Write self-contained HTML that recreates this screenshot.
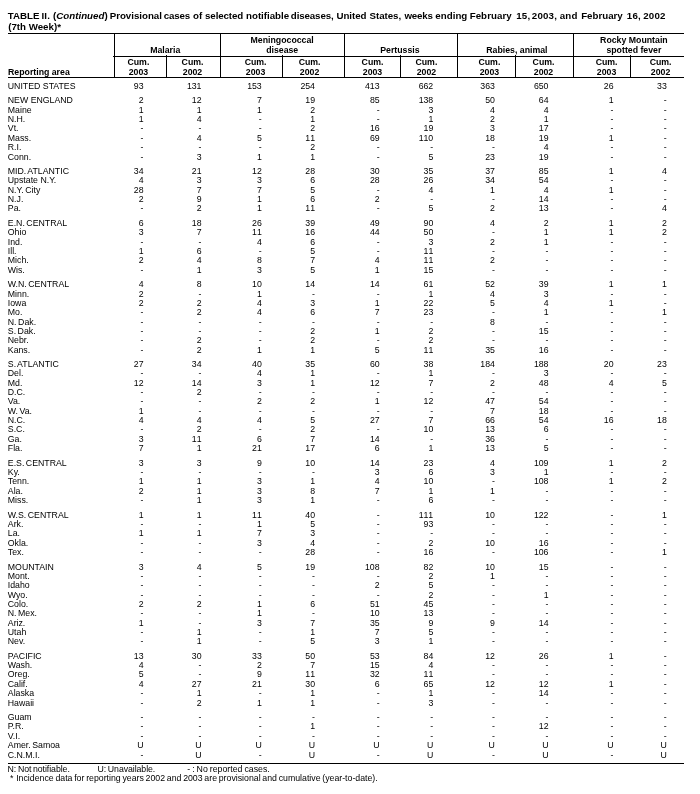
<!DOCTYPE html>
<html><head><meta charset="utf-8"><title>TABLE II. Provisional cases of selected notifiable diseases</title>
<style>
html,body{margin:0;padding:0;background:#fff;}
body{width:700px;height:794px;position:relative;overflow:hidden;font-family:"Liberation Sans",Arial,Helvetica,sans-serif;font-size:8.75px;line-height:9px;color:#000;}
.abs,.r,.r b,.r i,.h,.c,.ln{position:absolute;white-space:nowrap;}
.t{position:absolute;left:8.2px;font-weight:bold;font-size:9.72px;line-height:10px;white-space:nowrap;}
.r{left:0;width:700px;height:9px;}
.r b{left:7.8px;top:0;font-weight:normal;}
.r b.w{word-spacing:-0.9px;}
.r i{top:0;font-style:normal;text-align:right;font-kerning:none;}
.h{font-weight:bold;width:200px;text-align:center;}
.ln{background:#000;}
.f{position:absolute;white-space:nowrap;}
.t span{position:absolute;top:0;}
#w{position:absolute;left:0;top:0;width:700px;height:794px;will-change:transform;}
</style></head><body><div id="w">
<div class="t" style="top:11px;left:0"><span style="left:7.67px;letter-spacing:0.059px">TABLE </span><span style="left:41.45px;letter-spacing:0.200px">II. </span><span style="left:52.91px;letter-spacing:0.029px">(<em>Continued</em>) </span><span style="left:109.70px;letter-spacing:-0.011px">Provisional </span><span style="left:163.80px;letter-spacing:-0.179px">cases </span><span style="left:192.88px;letter-spacing:0.200px">of </span><span style="left:205.08px;letter-spacing:-0.118px">selected </span><span style="left:246.08px;letter-spacing:-0.022px">notifiable </span><span style="left:290.87px;letter-spacing:-0.123px">diseases, </span><span style="left:336.51px;letter-spacing:-0.057px">United </span><span style="left:369.53px;letter-spacing:-0.045px">States, </span><span style="left:404.40px;letter-spacing:-0.154px">weeks </span><span style="left:435.30px;letter-spacing:0.028px">ending </span><span style="left:469.63px;letter-spacing:0.079px">February </span><span style="left:516.22px;letter-spacing:0.200px">15, </span><span style="left:531.81px;letter-spacing:0.200px">2003, </span><span style="left:559.75px;letter-spacing:0.200px">and </span><span style="left:581.14px;letter-spacing:0.009px">February </span><span style="left:626.82px;letter-spacing:0.200px">16, </span><span style="left:643.20px;letter-spacing:0.200px">2002 </span></div>
<div class="t" style="top:22px">(7th Week)*</div>

<div class="ln" style="left:8px;top:33px;width:676px;height:1px"></div>
<div class="ln" style="left:113px;top:56px;width:571px;height:1px"></div>
<div class="ln" style="left:8px;top:77px;width:676px;height:1px"></div>
<div class="ln" style="left:8px;top:763px;width:676px;height:1px"></div>

<div class="ln" style="left:114px;top:33px;width:1px;height:44px"></div>
<div class="ln" style="left:220px;top:33px;width:1px;height:44px"></div>
<div class="ln" style="left:344px;top:33px;width:1px;height:44px"></div>
<div class="ln" style="left:457px;top:33px;width:1px;height:44px"></div>
<div class="ln" style="left:573px;top:33px;width:1px;height:44px"></div>
<div class="ln" style="left:166px;top:55px;width:1px;height:22px"></div>
<div class="ln" style="left:282px;top:55px;width:1px;height:22px"></div>
<div class="ln" style="left:400px;top:55px;width:1px;height:22px"></div>
<div class="ln" style="left:515px;top:55px;width:1px;height:22px"></div>
<div class="ln" style="left:630px;top:55px;width:1px;height:22px"></div>

<div class="h" style="left:65.25px;top:46px">Malaria</div>
<div class="h" style="left:182.2px;top:36px">Meningococcal</div>
<div class="h" style="left:182.2px;top:46px">disease</div>
<div class="h" style="left:299.9px;top:46px">Pertussis</div>
<div class="h" style="left:416.9px;top:46px">Rabies, animal</div>
<div class="h" style="left:533.9px;top:36px">Rocky Mountain</div>
<div class="h" style="left:533.9px;top:46px">spotted fever</div>

<div class="h" style="left:8px;top:68px;width:auto;text-align:left">Reporting area</div>
<div class="h" style="left:38.40px;top:58px">Cum.</div><div class="h" style="left:38.40px;top:68px">2003</div>
<div class="h" style="left:92.50px;top:58px">Cum.</div><div class="h" style="left:92.50px;top:68px">2002</div>
<div class="h" style="left:155.60px;top:58px">Cum.</div><div class="h" style="left:155.60px;top:68px">2003</div>
<div class="h" style="left:209.60px;top:58px">Cum.</div><div class="h" style="left:209.60px;top:68px">2002</div>
<div class="h" style="left:272.50px;top:58px">Cum.</div><div class="h" style="left:272.50px;top:68px">2003</div>
<div class="h" style="left:326.40px;top:58px">Cum.</div><div class="h" style="left:326.40px;top:68px">2002</div>
<div class="h" style="left:389.40px;top:58px">Cum.</div><div class="h" style="left:389.40px;top:68px">2003</div>
<div class="h" style="left:443.50px;top:58px">Cum.</div><div class="h" style="left:443.50px;top:68px">2002</div>
<div class="h" style="left:506.60px;top:58px">Cum.</div><div class="h" style="left:506.60px;top:68px">2003</div>
<div class="h" style="left:560.60px;top:58px">Cum.</div><div class="h" style="left:560.60px;top:68px">2002</div>

<div class="r" style="top:82.15px"><b>UNITED STATES</b><i style="right:556.50px">93</i><i style="right:498.50px">131</i><i style="right:438.25px">153</i><i style="right:385.00px">254</i><i style="right:320.40px">413</i><i style="right:266.75px">662</i><i style="right:205.10px">363</i><i style="right:151.50px">650</i><i style="right:86.50px">26</i><i style="right:33.25px">33</i></div>
<div class="r" style="top:96.15px"><b>NEW ENGLAND</b><i style="right:556.50px">2</i><i style="right:498.50px">12</i><i style="right:438.25px">7</i><i style="right:385.00px">19</i><i style="right:320.40px">85</i><i style="right:266.75px">138</i><i style="right:205.10px">50</i><i style="right:151.50px">64</i><i style="right:86.50px">1</i><i style="right:33.25px">-</i></div>
<div class="r" style="top:105.92px"><b>Maine</b><i style="right:556.50px">1</i><i style="right:498.50px">1</i><i style="right:438.25px">1</i><i style="right:385.00px">2</i><i style="right:320.40px">-</i><i style="right:266.75px">3</i><i style="right:205.10px">4</i><i style="right:151.50px">4</i><i style="right:86.50px">-</i><i style="right:33.25px">-</i></div>
<div class="r" style="top:115.04px"><b>N.H.</b><i style="right:556.50px">1</i><i style="right:498.50px">4</i><i style="right:438.25px">-</i><i style="right:385.00px">1</i><i style="right:320.40px">-</i><i style="right:266.75px">1</i><i style="right:205.10px">2</i><i style="right:151.50px">1</i><i style="right:86.50px">-</i><i style="right:33.25px">-</i></div>
<div class="r" style="top:124.49px"><b>Vt.</b><i style="right:556.50px">-</i><i style="right:498.50px">-</i><i style="right:438.25px">-</i><i style="right:385.00px">2</i><i style="right:320.40px">16</i><i style="right:266.75px">19</i><i style="right:205.10px">3</i><i style="right:151.50px">17</i><i style="right:86.50px">-</i><i style="right:33.25px">-</i></div>
<div class="r" style="top:133.94px"><b>Mass.</b><i style="right:556.50px">-</i><i style="right:498.50px">4</i><i style="right:438.25px">5</i><i style="right:385.00px">11</i><i style="right:320.40px">69</i><i style="right:266.75px">110</i><i style="right:205.10px">18</i><i style="right:151.50px">19</i><i style="right:86.50px">1</i><i style="right:33.25px">-</i></div>
<div class="r" style="top:143.06px"><b>R.I.</b><i style="right:556.50px">-</i><i style="right:498.50px">-</i><i style="right:438.25px">-</i><i style="right:385.00px">2</i><i style="right:320.40px">-</i><i style="right:266.75px">-</i><i style="right:205.10px">-</i><i style="right:151.50px">4</i><i style="right:86.50px">-</i><i style="right:33.25px">-</i></div>
<div class="r" style="top:152.83px"><b>Conn.</b><i style="right:556.50px">-</i><i style="right:498.50px">3</i><i style="right:438.25px">1</i><i style="right:385.00px">1</i><i style="right:320.40px">-</i><i style="right:266.75px">5</i><i style="right:205.10px">23</i><i style="right:151.50px">19</i><i style="right:86.50px">-</i><i style="right:33.25px">-</i></div>
<div class="r" style="top:167.16px"><b class="w">MID. ATLANTIC</b><i style="right:556.50px">34</i><i style="right:498.50px">21</i><i style="right:438.25px">12</i><i style="right:385.00px">28</i><i style="right:320.40px">30</i><i style="right:266.75px">35</i><i style="right:205.10px">37</i><i style="right:151.50px">85</i><i style="right:86.50px">1</i><i style="right:33.25px">4</i></div>
<div class="r" style="top:176.28px"><b>Upstate N.Y.</b><i style="right:556.50px">4</i><i style="right:498.50px">3</i><i style="right:438.25px">3</i><i style="right:385.00px">6</i><i style="right:320.40px">28</i><i style="right:266.75px">26</i><i style="right:205.10px">34</i><i style="right:151.50px">54</i><i style="right:86.50px">-</i><i style="right:33.25px">-</i></div>
<div class="r" style="top:185.73px"><b class="w">N.Y. City</b><i style="right:556.50px">28</i><i style="right:498.50px">7</i><i style="right:438.25px">7</i><i style="right:385.00px">5</i><i style="right:320.40px">-</i><i style="right:266.75px">4</i><i style="right:205.10px">1</i><i style="right:151.50px">4</i><i style="right:86.50px">1</i><i style="right:33.25px">-</i></div>
<div class="r" style="top:195.02px"><b>N.J.</b><i style="right:556.50px">2</i><i style="right:498.50px">9</i><i style="right:438.25px">1</i><i style="right:385.00px">6</i><i style="right:320.40px">2</i><i style="right:266.75px">-</i><i style="right:205.10px">-</i><i style="right:151.50px">14</i><i style="right:86.50px">-</i><i style="right:33.25px">-</i></div>
<div class="r" style="top:204.30px"><b>Pa.</b><i style="right:556.50px">-</i><i style="right:498.50px">2</i><i style="right:438.25px">1</i><i style="right:385.00px">11</i><i style="right:320.40px">-</i><i style="right:266.75px">5</i><i style="right:205.10px">2</i><i style="right:151.50px">13</i><i style="right:86.50px">-</i><i style="right:33.25px">4</i></div>
<div class="r" style="top:218.79px"><b class="w">E.N. CENTRAL</b><i style="right:556.50px">6</i><i style="right:498.50px">18</i><i style="right:438.25px">26</i><i style="right:385.00px">39</i><i style="right:320.40px">49</i><i style="right:266.75px">90</i><i style="right:205.10px">4</i><i style="right:151.50px">2</i><i style="right:86.50px">1</i><i style="right:33.25px">2</i></div>
<div class="r" style="top:228.08px"><b>Ohio</b><i style="right:556.50px">3</i><i style="right:498.50px">7</i><i style="right:438.25px">11</i><i style="right:385.00px">16</i><i style="right:320.40px">44</i><i style="right:266.75px">50</i><i style="right:205.10px">-</i><i style="right:151.50px">1</i><i style="right:86.50px">1</i><i style="right:33.25px">2</i></div>
<div class="r" style="top:237.85px"><b>Ind.</b><i style="right:556.50px">-</i><i style="right:498.50px">-</i><i style="right:438.25px">4</i><i style="right:385.00px">6</i><i style="right:320.40px">-</i><i style="right:266.75px">3</i><i style="right:205.10px">2</i><i style="right:151.50px">1</i><i style="right:86.50px">-</i><i style="right:33.25px">-</i></div>
<div class="r" style="top:246.81px"><b>Ill.</b><i style="right:556.50px">1</i><i style="right:498.50px">6</i><i style="right:438.25px">-</i><i style="right:385.00px">5</i><i style="right:320.40px">-</i><i style="right:266.75px">11</i><i style="right:205.10px">-</i><i style="right:151.50px">-</i><i style="right:86.50px">-</i><i style="right:33.25px">-</i></div>
<div class="r" style="top:256.09px"><b>Mich.</b><i style="right:556.50px">2</i><i style="right:498.50px">4</i><i style="right:438.25px">8</i><i style="right:385.00px">7</i><i style="right:320.40px">4</i><i style="right:266.75px">11</i><i style="right:205.10px">2</i><i style="right:151.50px">-</i><i style="right:86.50px">-</i><i style="right:33.25px">-</i></div>
<div class="r" style="top:265.87px"><b>Wis.</b><i style="right:556.50px">-</i><i style="right:498.50px">1</i><i style="right:438.25px">3</i><i style="right:385.00px">5</i><i style="right:320.40px">1</i><i style="right:266.75px">15</i><i style="right:205.10px">-</i><i style="right:151.50px">-</i><i style="right:86.50px">-</i><i style="right:33.25px">-</i></div>
<div class="r" style="top:280.03px"><b class="w">W.N. CENTRAL</b><i style="right:556.50px">4</i><i style="right:498.50px">8</i><i style="right:438.25px">10</i><i style="right:385.00px">14</i><i style="right:320.40px">14</i><i style="right:266.75px">61</i><i style="right:205.10px">52</i><i style="right:151.50px">39</i><i style="right:86.50px">1</i><i style="right:33.25px">1</i></div>
<div class="r" style="top:289.64px"><b>Minn.</b><i style="right:556.50px">2</i><i style="right:498.50px">-</i><i style="right:438.25px">1</i><i style="right:385.00px">-</i><i style="right:320.40px">-</i><i style="right:266.75px">1</i><i style="right:205.10px">4</i><i style="right:151.50px">3</i><i style="right:86.50px">-</i><i style="right:33.25px">-</i></div>
<div class="r" style="top:298.93px"><b>Iowa</b><i style="right:556.50px">2</i><i style="right:498.50px">2</i><i style="right:438.25px">4</i><i style="right:385.00px">3</i><i style="right:320.40px">1</i><i style="right:266.75px">22</i><i style="right:205.10px">5</i><i style="right:151.50px">4</i><i style="right:86.50px">1</i><i style="right:33.25px">-</i></div>
<div class="r" style="top:308.05px"><b>Mo.</b><i style="right:556.50px">-</i><i style="right:498.50px">2</i><i style="right:438.25px">4</i><i style="right:385.00px">6</i><i style="right:320.40px">7</i><i style="right:266.75px">23</i><i style="right:205.10px">-</i><i style="right:151.50px">1</i><i style="right:86.50px">-</i><i style="right:33.25px">1</i></div>
<div class="r" style="top:317.50px"><b class="w">N. Dak.</b><i style="right:556.50px">-</i><i style="right:498.50px">-</i><i style="right:438.25px">-</i><i style="right:385.00px">-</i><i style="right:320.40px">-</i><i style="right:266.75px">-</i><i style="right:205.10px">8</i><i style="right:151.50px">-</i><i style="right:86.50px">-</i><i style="right:33.25px">-</i></div>
<div class="r" style="top:326.95px"><b class="w">S. Dak.</b><i style="right:556.50px">-</i><i style="right:498.50px">-</i><i style="right:438.25px">-</i><i style="right:385.00px">2</i><i style="right:320.40px">1</i><i style="right:266.75px">2</i><i style="right:205.10px">-</i><i style="right:151.50px">15</i><i style="right:86.50px">-</i><i style="right:33.25px">-</i></div>
<div class="r" style="top:336.07px"><b>Nebr.</b><i style="right:556.50px">-</i><i style="right:498.50px">2</i><i style="right:438.25px">-</i><i style="right:385.00px">2</i><i style="right:320.40px">-</i><i style="right:266.75px">2</i><i style="right:205.10px">-</i><i style="right:151.50px">-</i><i style="right:86.50px">-</i><i style="right:33.25px">-</i></div>
<div class="r" style="top:345.52px"><b>Kans.</b><i style="right:556.50px">-</i><i style="right:498.50px">2</i><i style="right:438.25px">1</i><i style="right:385.00px">1</i><i style="right:320.40px">5</i><i style="right:266.75px">11</i><i style="right:205.10px">35</i><i style="right:151.50px">16</i><i style="right:86.50px">-</i><i style="right:33.25px">-</i></div>
<div class="r" style="top:360.01px"><b class="w">S. ATLANTIC</b><i style="right:556.50px">27</i><i style="right:498.50px">34</i><i style="right:438.25px">40</i><i style="right:385.00px">35</i><i style="right:320.40px">60</i><i style="right:266.75px">38</i><i style="right:205.10px">184</i><i style="right:151.50px">188</i><i style="right:86.50px">20</i><i style="right:33.25px">23</i></div>
<div class="r" style="top:369.13px"><b>Del.</b><i style="right:556.50px">-</i><i style="right:498.50px">-</i><i style="right:438.25px">4</i><i style="right:385.00px">1</i><i style="right:320.40px">-</i><i style="right:266.75px">1</i><i style="right:205.10px">-</i><i style="right:151.50px">3</i><i style="right:86.50px">-</i><i style="right:33.25px">-</i></div>
<div class="r" style="top:378.58px"><b>Md.</b><i style="right:556.50px">12</i><i style="right:498.50px">14</i><i style="right:438.25px">3</i><i style="right:385.00px">1</i><i style="right:320.40px">12</i><i style="right:266.75px">7</i><i style="right:205.10px">2</i><i style="right:151.50px">48</i><i style="right:86.50px">4</i><i style="right:33.25px">5</i></div>
<div class="r" style="top:388.02px"><b>D.C.</b><i style="right:556.50px">-</i><i style="right:498.50px">2</i><i style="right:438.25px">-</i><i style="right:385.00px">-</i><i style="right:320.40px">-</i><i style="right:266.75px">-</i><i style="right:205.10px">-</i><i style="right:151.50px">-</i><i style="right:86.50px">-</i><i style="right:33.25px">-</i></div>
<div class="r" style="top:397.31px"><b>Va.</b><i style="right:556.50px">-</i><i style="right:498.50px">-</i><i style="right:438.25px">2</i><i style="right:385.00px">2</i><i style="right:320.40px">1</i><i style="right:266.75px">12</i><i style="right:205.10px">47</i><i style="right:151.50px">54</i><i style="right:86.50px">-</i><i style="right:33.25px">-</i></div>
<div class="r" style="top:406.76px"><b class="w">W. Va.</b><i style="right:556.50px">1</i><i style="right:498.50px">-</i><i style="right:438.25px">-</i><i style="right:385.00px">-</i><i style="right:320.40px">-</i><i style="right:266.75px">-</i><i style="right:205.10px">7</i><i style="right:151.50px">18</i><i style="right:86.50px">-</i><i style="right:33.25px">-</i></div>
<div class="r" style="top:416.04px"><b>N.C.</b><i style="right:556.50px">4</i><i style="right:498.50px">4</i><i style="right:438.25px">4</i><i style="right:385.00px">5</i><i style="right:320.40px">27</i><i style="right:266.75px">7</i><i style="right:205.10px">66</i><i style="right:151.50px">54</i><i style="right:86.50px">16</i><i style="right:33.25px">18</i></div>
<div class="r" style="top:425.49px"><b>S.C.</b><i style="right:556.50px">-</i><i style="right:498.50px">2</i><i style="right:438.25px">-</i><i style="right:385.00px">2</i><i style="right:320.40px">-</i><i style="right:266.75px">10</i><i style="right:205.10px">13</i><i style="right:151.50px">6</i><i style="right:86.50px">-</i><i style="right:33.25px">-</i></div>
<div class="r" style="top:434.77px"><b>Ga.</b><i style="right:556.50px">3</i><i style="right:498.50px">11</i><i style="right:438.25px">6</i><i style="right:385.00px">7</i><i style="right:320.40px">14</i><i style="right:266.75px">-</i><i style="right:205.10px">36</i><i style="right:151.50px">-</i><i style="right:86.50px">-</i><i style="right:33.25px">-</i></div>
<div class="r" style="top:444.06px"><b>Fla.</b><i style="right:556.50px">7</i><i style="right:498.50px">1</i><i style="right:438.25px">21</i><i style="right:385.00px">17</i><i style="right:320.40px">6</i><i style="right:266.75px">1</i><i style="right:205.10px">13</i><i style="right:151.50px">5</i><i style="right:86.50px">-</i><i style="right:33.25px">-</i></div>
<div class="r" style="top:458.55px"><b class="w">E.S. CENTRAL</b><i style="right:556.50px">3</i><i style="right:498.50px">3</i><i style="right:438.25px">9</i><i style="right:385.00px">10</i><i style="right:320.40px">14</i><i style="right:266.75px">23</i><i style="right:205.10px">4</i><i style="right:151.50px">109</i><i style="right:86.50px">1</i><i style="right:33.25px">2</i></div>
<div class="r" style="top:468.00px"><b>Ky.</b><i style="right:556.50px">-</i><i style="right:498.50px">-</i><i style="right:438.25px">-</i><i style="right:385.00px">-</i><i style="right:320.40px">3</i><i style="right:266.75px">6</i><i style="right:205.10px">3</i><i style="right:151.50px">1</i><i style="right:86.50px">-</i><i style="right:33.25px">-</i></div>
<div class="r" style="top:477.44px"><b>Tenn.</b><i style="right:556.50px">1</i><i style="right:498.50px">1</i><i style="right:438.25px">3</i><i style="right:385.00px">1</i><i style="right:320.40px">4</i><i style="right:266.75px">10</i><i style="right:205.10px">-</i><i style="right:151.50px">108</i><i style="right:86.50px">1</i><i style="right:33.25px">2</i></div>
<div class="r" style="top:486.73px"><b>Ala.</b><i style="right:556.50px">2</i><i style="right:498.50px">1</i><i style="right:438.25px">3</i><i style="right:385.00px">8</i><i style="right:320.40px">7</i><i style="right:266.75px">1</i><i style="right:205.10px">1</i><i style="right:151.50px">-</i><i style="right:86.50px">-</i><i style="right:33.25px">-</i></div>
<div class="r" style="top:495.85px"><b>Miss.</b><i style="right:556.50px">-</i><i style="right:498.50px">1</i><i style="right:438.25px">3</i><i style="right:385.00px">1</i><i style="right:320.40px">-</i><i style="right:266.75px">6</i><i style="right:205.10px">-</i><i style="right:151.50px">-</i><i style="right:86.50px">-</i><i style="right:33.25px">-</i></div>
<div class="r" style="top:510.50px"><b class="w">W.S. CENTRAL</b><i style="right:556.50px">1</i><i style="right:498.50px">1</i><i style="right:438.25px">11</i><i style="right:385.00px">40</i><i style="right:320.40px">-</i><i style="right:266.75px">111</i><i style="right:205.10px">10</i><i style="right:151.50px">122</i><i style="right:86.50px">-</i><i style="right:33.25px">1</i></div>
<div class="r" style="top:519.63px"><b>Ark.</b><i style="right:556.50px">-</i><i style="right:498.50px">-</i><i style="right:438.25px">1</i><i style="right:385.00px">5</i><i style="right:320.40px">-</i><i style="right:266.75px">93</i><i style="right:205.10px">-</i><i style="right:151.50px">-</i><i style="right:86.50px">-</i><i style="right:33.25px">-</i></div>
<div class="r" style="top:529.24px"><b>La.</b><i style="right:556.50px">1</i><i style="right:498.50px">1</i><i style="right:438.25px">7</i><i style="right:385.00px">3</i><i style="right:320.40px">-</i><i style="right:266.75px">-</i><i style="right:205.10px">-</i><i style="right:151.50px">-</i><i style="right:86.50px">-</i><i style="right:33.25px">-</i></div>
<div class="r" style="top:538.69px"><b>Okla.</b><i style="right:556.50px">-</i><i style="right:498.50px">-</i><i style="right:438.25px">3</i><i style="right:385.00px">4</i><i style="right:320.40px">-</i><i style="right:266.75px">2</i><i style="right:205.10px">10</i><i style="right:151.50px">16</i><i style="right:86.50px">-</i><i style="right:33.25px">-</i></div>
<div class="r" style="top:547.97px"><b>Tex.</b><i style="right:556.50px">-</i><i style="right:498.50px">-</i><i style="right:438.25px">-</i><i style="right:385.00px">28</i><i style="right:320.40px">-</i><i style="right:266.75px">16</i><i style="right:205.10px">-</i><i style="right:151.50px">106</i><i style="right:86.50px">-</i><i style="right:33.25px">1</i></div>
<div class="r" style="top:562.62px"><b>MOUNTAIN</b><i style="right:556.50px">3</i><i style="right:498.50px">4</i><i style="right:438.25px">5</i><i style="right:385.00px">19</i><i style="right:320.40px">108</i><i style="right:266.75px">82</i><i style="right:205.10px">10</i><i style="right:151.50px">15</i><i style="right:86.50px">-</i><i style="right:33.25px">-</i></div>
<div class="r" style="top:571.91px"><b>Mont.</b><i style="right:556.50px">-</i><i style="right:498.50px">-</i><i style="right:438.25px">-</i><i style="right:385.00px">-</i><i style="right:320.40px">-</i><i style="right:266.75px">2</i><i style="right:205.10px">1</i><i style="right:151.50px">-</i><i style="right:86.50px">-</i><i style="right:33.25px">-</i></div>
<div class="r" style="top:581.03px"><b>Idaho</b><i style="right:556.50px">-</i><i style="right:498.50px">-</i><i style="right:438.25px">-</i><i style="right:385.00px">-</i><i style="right:320.40px">2</i><i style="right:266.75px">5</i><i style="right:205.10px">-</i><i style="right:151.50px">-</i><i style="right:86.50px">-</i><i style="right:33.25px">-</i></div>
<div class="r" style="top:590.64px"><b>Wyo.</b><i style="right:556.50px">-</i><i style="right:498.50px">-</i><i style="right:438.25px">-</i><i style="right:385.00px">-</i><i style="right:320.40px">-</i><i style="right:266.75px">2</i><i style="right:205.10px">-</i><i style="right:151.50px">1</i><i style="right:86.50px">-</i><i style="right:33.25px">-</i></div>
<div class="r" style="top:599.76px"><b>Colo.</b><i style="right:556.50px">2</i><i style="right:498.50px">2</i><i style="right:438.25px">1</i><i style="right:385.00px">6</i><i style="right:320.40px">51</i><i style="right:266.75px">45</i><i style="right:205.10px">-</i><i style="right:151.50px">-</i><i style="right:86.50px">-</i><i style="right:33.25px">-</i></div>
<div class="r" style="top:608.89px"><b class="w">N. Mex.</b><i style="right:556.50px">-</i><i style="right:498.50px">-</i><i style="right:438.25px">1</i><i style="right:385.00px">-</i><i style="right:320.40px">10</i><i style="right:266.75px">13</i><i style="right:205.10px">-</i><i style="right:151.50px">-</i><i style="right:86.50px">-</i><i style="right:33.25px">-</i></div>
<div class="r" style="top:618.66px"><b>Ariz.</b><i style="right:556.50px">1</i><i style="right:498.50px">-</i><i style="right:438.25px">3</i><i style="right:385.00px">7</i><i style="right:320.40px">35</i><i style="right:266.75px">9</i><i style="right:205.10px">9</i><i style="right:151.50px">14</i><i style="right:86.50px">-</i><i style="right:33.25px">-</i></div>
<div class="r" style="top:627.94px"><b>Utah</b><i style="right:556.50px">-</i><i style="right:498.50px">1</i><i style="right:438.25px">-</i><i style="right:385.00px">1</i><i style="right:320.40px">7</i><i style="right:266.75px">5</i><i style="right:205.10px">-</i><i style="right:151.50px">-</i><i style="right:86.50px">-</i><i style="right:33.25px">-</i></div>
<div class="r" style="top:637.23px"><b>Nev.</b><i style="right:556.50px">-</i><i style="right:498.50px">1</i><i style="right:438.25px">-</i><i style="right:385.00px">5</i><i style="right:320.40px">3</i><i style="right:266.75px">1</i><i style="right:205.10px">-</i><i style="right:151.50px">-</i><i style="right:86.50px">-</i><i style="right:33.25px">-</i></div>
<div class="r" style="top:651.88px"><b>PACIFIC</b><i style="right:556.50px">13</i><i style="right:498.50px">30</i><i style="right:438.25px">33</i><i style="right:385.00px">50</i><i style="right:320.40px">53</i><i style="right:266.75px">84</i><i style="right:205.10px">12</i><i style="right:151.50px">26</i><i style="right:86.50px">1</i><i style="right:33.25px">-</i></div>
<div class="r" style="top:660.68px"><b>Wash.</b><i style="right:556.50px">4</i><i style="right:498.50px">-</i><i style="right:438.25px">2</i><i style="right:385.00px">7</i><i style="right:320.40px">15</i><i style="right:266.75px">4</i><i style="right:205.10px">-</i><i style="right:151.50px">-</i><i style="right:86.50px">-</i><i style="right:33.25px">-</i></div>
<div class="r" style="top:670.29px"><b>Oreg.</b><i style="right:556.50px">5</i><i style="right:498.50px">-</i><i style="right:438.25px">9</i><i style="right:385.00px">11</i><i style="right:320.40px">32</i><i style="right:266.75px">11</i><i style="right:205.10px">-</i><i style="right:151.50px">-</i><i style="right:86.50px">-</i><i style="right:33.25px">-</i></div>
<div class="r" style="top:679.57px"><b>Calif.</b><i style="right:556.50px">4</i><i style="right:498.50px">27</i><i style="right:438.25px">21</i><i style="right:385.00px">30</i><i style="right:320.40px">6</i><i style="right:266.75px">65</i><i style="right:205.10px">12</i><i style="right:151.50px">12</i><i style="right:86.50px">1</i><i style="right:33.25px">-</i></div>
<div class="r" style="top:688.86px"><b>Alaska</b><i style="right:556.50px">-</i><i style="right:498.50px">1</i><i style="right:438.25px">-</i><i style="right:385.00px">1</i><i style="right:320.40px">-</i><i style="right:266.75px">1</i><i style="right:205.10px">-</i><i style="right:151.50px">14</i><i style="right:86.50px">-</i><i style="right:33.25px">-</i></div>
<div class="r" style="top:698.53px"><b>Hawaii</b><i style="right:556.50px">-</i><i style="right:498.50px">2</i><i style="right:438.25px">1</i><i style="right:385.00px">1</i><i style="right:320.40px">-</i><i style="right:266.75px">3</i><i style="right:205.10px">-</i><i style="right:151.50px">-</i><i style="right:86.50px">-</i><i style="right:33.25px">-</i></div>
<div class="r" style="top:712.70px"><b>Guam</b><i style="right:556.50px">-</i><i style="right:498.50px">-</i><i style="right:438.25px">-</i><i style="right:385.00px">-</i><i style="right:320.40px">-</i><i style="right:266.75px">-</i><i style="right:205.10px">-</i><i style="right:151.50px">-</i><i style="right:86.50px">-</i><i style="right:33.25px">-</i></div>
<div class="r" style="top:722.41px"><b>P.R.</b><i style="right:556.50px">-</i><i style="right:498.50px">-</i><i style="right:438.25px">-</i><i style="right:385.00px">1</i><i style="right:320.40px">-</i><i style="right:266.75px">-</i><i style="right:205.10px">-</i><i style="right:151.50px">12</i><i style="right:86.50px">-</i><i style="right:33.25px">-</i></div>
<div class="r" style="top:731.53px"><b>V.I.</b><i style="right:556.50px">-</i><i style="right:498.50px">-</i><i style="right:438.25px">-</i><i style="right:385.00px">-</i><i style="right:320.40px">-</i><i style="right:266.75px">-</i><i style="right:205.10px">-</i><i style="right:151.50px">-</i><i style="right:86.50px">-</i><i style="right:33.25px">-</i></div>
<div class="r" style="top:740.98px"><b class="w">Amer. Samoa</b><i style="right:556.50px">U</i><i style="right:498.50px">U</i><i style="right:438.25px">U</i><i style="right:385.00px">U</i><i style="right:320.40px">U</i><i style="right:266.75px">U</i><i style="right:205.10px">U</i><i style="right:151.50px">U</i><i style="right:86.50px">U</i><i style="right:33.25px">U</i></div>
<div class="r" style="top:750.56px"><b>C.N.M.I.</b><i style="right:556.50px">-</i><i style="right:498.50px">U</i><i style="right:438.25px">-</i><i style="right:385.00px">U</i><i style="right:320.40px">-</i><i style="right:266.75px">U</i><i style="right:205.10px">-</i><i style="right:151.50px">U</i><i style="right:86.50px">-</i><i style="right:33.25px">U</i></div>
<div class="f" style="left:7.6px;top:765px;word-spacing:-0.7px;letter-spacing:-0.06px">N: Not notifiable.</div>
<div class="f" style="left:97.6px;top:765px;word-spacing:-0.7px;letter-spacing:-0.07px">U: Unavailable.</div>
<div class="f" style="left:187.2px;top:765px;word-spacing:-0.4px">- : No reported cases.</div>
<div class="f" style="left:10px;top:774px">*</div>
<div class="f" style="left:16.2px;top:774px;word-spacing:-0.68px">Incidence data for reporting years 2002 and 2003 are provisional and cumulative (year-to-date).</div>
</div></body></html>
